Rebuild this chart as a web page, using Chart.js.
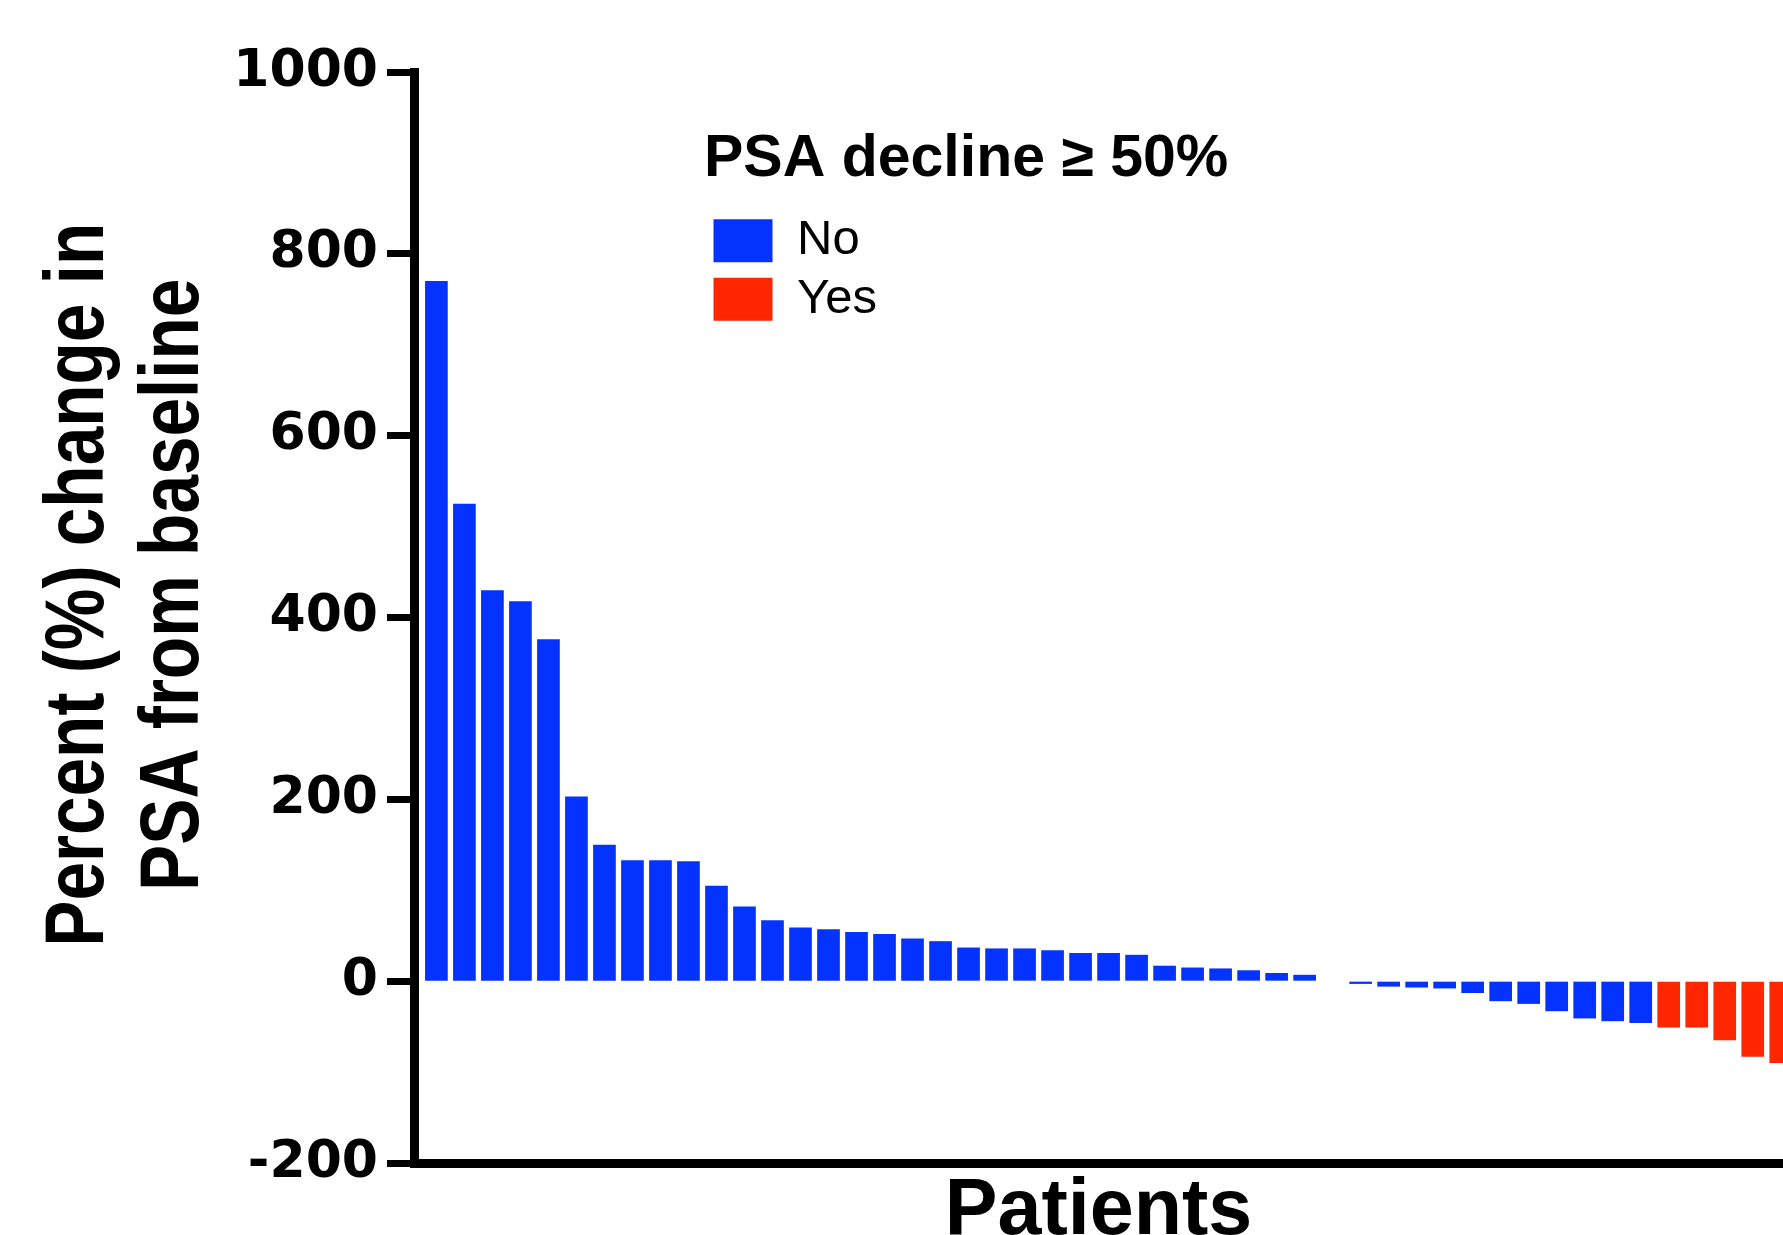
<!DOCTYPE html>
<html>
<head>
<meta charset="utf-8">
<script src="https://cdn.jsdelivr.net/npm/chart.js@4.4.1/dist/chart.umd.min.js"></script>
<style>
  html, body { margin: 0; padding: 0; overflow: hidden; background: #fff; }
  canvas { display: block; }
</style>
</head>
<body>
<canvas id="grafico" width="1783" height="1252"></canvas>
<script>
// Dados (variação % do PSA por paciente)
const psaChange = [770, 525, 430, 418, 376, 203, 150, 133, 133, 132,
  105, 82, 67, 59, 57, 54, 52, 47, 44, 37,
  36, 36, 34, 31, 31, 29, 17, 15, 14, 12,
  9, 7, 0, -3, -6, -7, -8, -13, -22, -25,
  -33, -41, -44, -46, -51, -51, -65, -83, -90];
const patients = psaChange.map((_, i) => i + 1);
const legendLabels = ["No", "Yes"];
const legendTitle = "PSA decline \u2265 50%";
const yTitleLines = ["Percent (%) change in", "PSA from baseline"];
const xTitle = "Patients";
const yMin = -200, yMax = 1000, yStep = 200;

const AZUL = "#0433FF";
const VERMELHO = "#FF2600";

// Título do eixo Y em duas linhas, fonte condensada
const tituloY = {
  id: "tituloY",
  afterDraw(chart) {
    const ctx = chart.ctx;
    const a = chart.chartArea;
    const cy = a.top + (a.bottom - a.top) * 0.47;
    ctx.save();
    ctx.fillStyle = "#000";
    ctx.font = 'bold 84px "Liberation Sans", sans-serif';
    ctx.textAlign = "center";
    ctx.textBaseline = "alphabetic";
    yTitleLines.forEach((linha, i) => {
      ctx.save();
      ctx.translate(103 + i * 95, cy);
      ctx.rotate(-Math.PI / 2);
      ctx.scale(0.825, 1);
      ctx.fillText(linha, 0, 0);
      ctx.restore();
    });
    ctx.restore();
  }
};

// Move a legenda para dentro da área do gráfico
const moverLegenda = {
  id: "moverLegenda",
  afterLayout(chart) {
    const lg = chart.legend;
    const a = chart.chartArea;
    lg.left = a.left + 290;
    lg.top = a.top + 56;
    lg.width = 660;
    lg.right = lg.left + lg.width;
    lg.bottom = lg.top + lg.height;
  }
};

const ctx = document.getElementById("grafico").getContext("2d");

new Chart(ctx, {
  type: "bar",
  data: {
    datasets: [{
      label: "PSA",
      data: patients.map((p, i) => ({ x: p, y: psaChange[i] })),
      backgroundColor: psaChange.map(v => v <= -50 ? VERMELHO : AZUL),
      borderWidth: 0,
      barPercentage: 0.81,
      categoryPercentage: 1
    }]
  },
  options: {
    responsive: false,
    animation: false,
    layout: { padding: { top: 72, left: 0, right: 0, bottom: 0 } },
    plugins: {
      tooltip: { enabled: false },
      legend: {
        position: "chartArea",
        align: "start",
        title: {
          display: true,
          text: legendTitle,
          position: "start",
          color: "#000",
          font: { family: "Liberation Sans", size: 59, weight: "bold", lineHeight: 1.2 },
          padding: { top: 2, bottom: 6 }
        },
        labels: {
          color: "#000",
          font: { family: "Liberation Sans", size: 49 },
          boxWidth: 59,
          boxHeight: 43,
          padding: 9.5,
          generateLabels: () => legendLabels.map((t, i) => ({
            text: t,
            fillStyle: i === 0 ? AZUL : VERMELHO,
            strokeStyle: i === 0 ? AZUL : VERMELHO,
            lineWidth: 0,
            hidden: false,
            datasetIndex: 0
          }))
        }
      }
    },
    scales: {
      x: {
        type: "linear",
        min: 0.2,
        max: 49.08,
        offset: false,
        ticks: { display: false },
        grid: { display: true, drawOnChartArea: false, drawTicks: false },
        border: { display: true, width: 9, color: "#000" },
        title: {
          display: true,
          text: xTitle,
          color: "#000",
          font: { family: "Liberation Sans", size: 79, weight: "bold", lineHeight: 1 },
          padding: { top: 10, bottom: 0 }
        }
      },
      y: {
        min: yMin,
        max: yMax,
        afterFit(scale) { scale.width = 414; },
        ticks: {
          stepSize: yStep,
          color: "#000",
          padding: 9,
          font: { family: "DejaVu Sans", size: 52, weight: "bold" },
          callback: (v) => String(v)
        },
        grid: {
          drawOnChartArea: false,
          tickLength: 27,
          tickWidth: 7,
          tickColor: "#000"
        },
        border: { display: true, width: 9, color: "#000" }
      }
    }
  },
  plugins: [tituloY, moverLegenda]
});
</script>
</body>
</html>
